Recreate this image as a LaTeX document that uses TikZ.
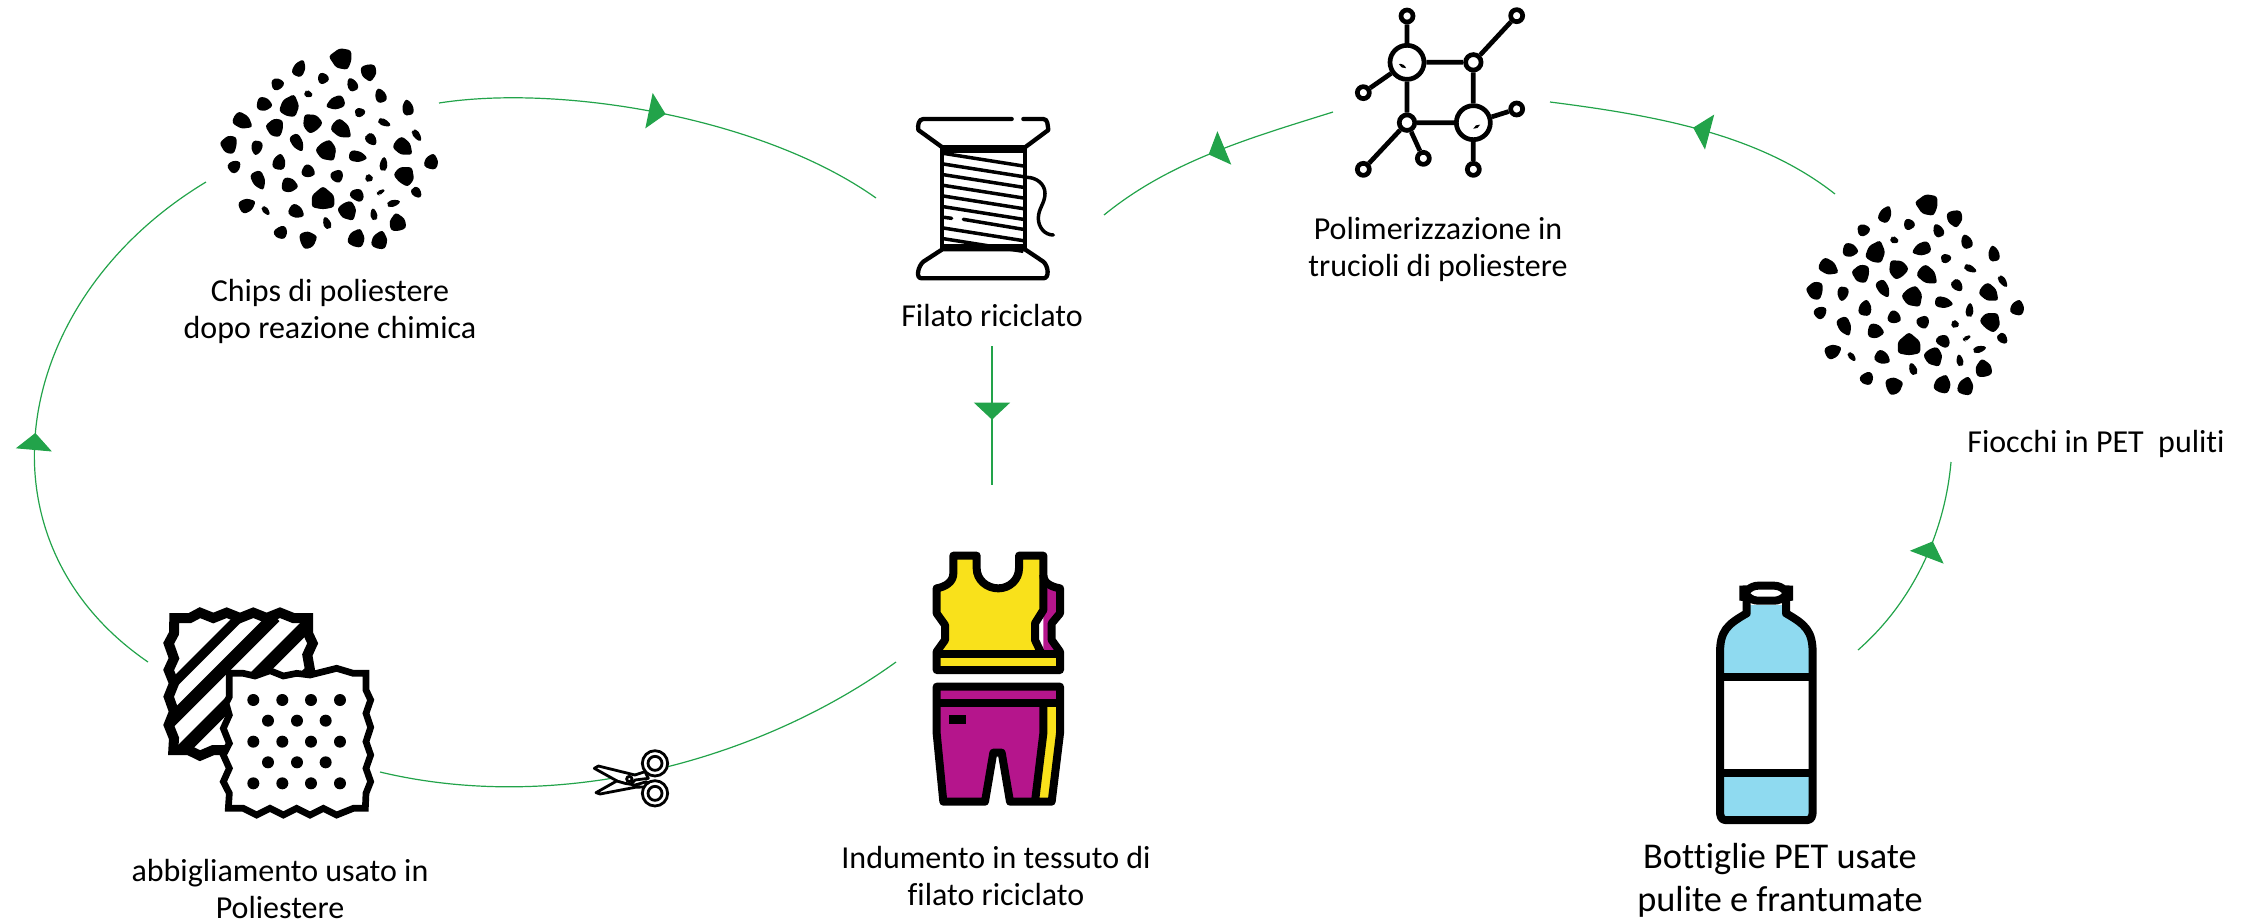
\documentclass[tikz,border=0pt]{standalone}
\usepackage{fontspec}
\setmainfont[Ligatures=NoCommon]{Carlito}
\usetikzlibrary{arrows.meta,decorations.markings}
\definecolor{flowgreen}{HTML}{22A34A}
\definecolor{topyellow}{HTML}{F9E11B}
\definecolor{pantsmagenta}{HTML}{B5158C}
\definecolor{bottleblue}{HTML}{8FDAF0}
\tikzset{
	flow/.style={flowgreen,line width=1.2pt},
	flowmark/.style={flow,postaction={decorate},decoration={markings,mark=at position #1 with {\arrow{Triangle[length=17pt,width=36pt]}}}},
	caption/.style={align=center,inner sep=0pt,font=\fontsize{32}{37}\selectfont},
	icon/.style={line width=4.3pt,line join=round,line cap=round},
	bigring/.style={circle,draw,fill=white,line width=4.7pt,minimum size=34pt,inner sep=0pt},
	midring/.style={circle,draw,fill=white,line width=4.7pt,minimum size=15.5pt,inner sep=0pt},
	smallring/.style={circle,draw,fill=white,line width=4.7pt,minimum size=12pt,inner sep=0pt},
	chips/.pic={
		\begin{scope}[scale=1/3]
		\foreach \px/\py/\pl/\pw/\pa in {420/85/32/24/170,299/113/26/14/65,507/130/25/18/-80,368/143/17/13/120,235/162/19/14/10,456/162/21/12/115,327/193/13/8/-20,541/195/22/13/110,195/223/23/16/-10,271/225/32/21/70,405/220/28/15/200,623/231/24/13/100,482/247/16/11/10,130/275/30/17/-30,222/292/25/21/170,333/276/28/21/130,555/279/20/8/-25,427/300/32/18/-40,515/330/20/12/-50,652/318/20/8/-55,84/343/24/21/170,170/355/22/13/-100,293/340/28/13/-60,383/366/30/22/-55,612/353/30/18/-40,475/380/27/13/-10,105/408/20/14/40,238/394/24/15/80,551/400/21/9/85,695/393/23/16/75,327/425/20/15/-25,412/441/19/15/-70,617/434/27/23/50,177/453/29/15/-65,271/466/24/17/-10,509/445/12/9/-15,369/503/32/27/90,473/493/18/17/60,544/485/13/5/30,651/489/18/11/-50,143/525/25/16/25,199/544/16/7/-50,291/546/24/15/-30,445/546/28/20/-60,583/519/20/8/15,521/551/18/8/100,592/575/26/19/100,244/610/19/16/-60,380/577/19/9/110,327/628/25/20/20,471/622/27/19/70,540/628/27/18/75}{
			\fill[black,shift={(\px,\py)},rotate=\pa,rounded corners=3pt] ({1.1*\pl},0) -- ({.2*\pl},{1.25*\pw}) -- ({-.9*\pl},{1.25*\pw}) -- ({-1.1*\pl},0) -- ({-.9*\pl},{-1.25*\pw}) -- ({.2*\pl},{-1.25*\pw}) -- cycle;
		}
		\end{scope}
	}
}
\begin{document}
\begin{tikzpicture}[x=1pt,y=-1pt]
	\useasboundingbox (0,0) rectangle (2248,922);
	\coordinate (chipsout) at (439,103);
	\coordinate (spoolin) at (876,198);
	\coordinate (spoolleft) at (1104,215);
	\coordinate (netout) at (1333,112);
	\coordinate (netin) at (1550,102);
	\coordinate (flakeout) at (1835,194);
	\coordinate (flakein) at (1951,462);
	\coordinate (bottleout) at (1858,650);
	\coordinate (spooldown) at (992,346);
	\coordinate (garmentup) at (992,485);
	\coordinate (garmentleft) at (896,662);
	\coordinate (clothright) at (380,772);
	\coordinate (clothup) at (148,662);
	\coordinate (chipsin) at (206,182);
	\draw[flowmark=0.5] (chipsout) .. controls (560,84) and (762,117) .. (spoolin);
	\draw[flowmark=0.52] (netout) .. controls (1250,138) and (1170,161) .. (spoolleft);
	\draw[flowmark=0.52] (flakeout) .. controls (1760,135) and (1660,116) .. (netin);
	\draw[flowmark=0.62] (bottleout) .. controls (1915,600) and (1945,530) .. (flakein);
	\draw[flowmark=0.53] (spooldown) -- (garmentup);
	\draw[flow] (garmentleft) .. controls (760,760) and (560,815) .. (clothright);
	\draw[flowmark=0.46] (clothup) .. controls (-30,540) and (10,300) .. (chipsin);
	\pic (chipsleft) at (200,30) {chips};
	\pic (chipsright) at (1786,176) {chips};
	% spool
	\begin{scope}[shift={(880,90)},scale=1/3]
		\draw[icon] (395,87) -- (130,87) to[out=180,in=100] (115,120) -- (187,172) -- (435,172) -- (505,120) to[out=100,in=0] (490,87) -- (430,87);
		\draw[icon] (187,478) -- (130,515) to[out=-140,in=180] (125,565) -- (490,565) to[out=0,in=-40] (490,515) -- (435,478) -- cycle;
		\draw[icon] (187,172) -- (187,478) (435,172) -- (435,478);
		\fill (187,172) rectangle (435,190);
		\fill (187,462) -- (435,462) -- (435,478) -- (187,478) -- cycle;
		\foreach \ty in {190,222,254,286,318,350,414,446}
			\draw[line width=3.5pt] (190,\ty) -- (430,\ty+38);
		\draw[line width=3.5pt,line cap=round] (193,382) -- (215,385) (250,388) -- (430,418);
		\draw[line width=3.5pt,line cap=round] (440,262) to[out=0,in=90] (495,310) to[out=-90,in=90] (475,385) to[out=-90,in=180] (520,435);
	\end{scope}
	% network
	\begin{scope}[shift={(1340,0)},scale=1/3]
		\node[bigring] (ringa) at (201,187) {};
		\node[midring] (ringb) at (400,187) {};
		\node[midring] (ringc) at (201,368) {};
		\node[bigring] (ringd) at (400,368) {};
		\node[smallring] (leafa) at (201,48) {};
		\node[smallring] (leafb) at (530,47) {};
		\node[smallring] (leafc) at (70,278) {};
		\node[smallring] (leafd) at (530,327) {};
		\node[smallring] (leafe) at (70,508) {};
		\node[smallring] (leaff) at (250,475) {};
		\node[smallring] (leafg) at (400,508) {};
		\draw[line width=4.7pt] (ringa) -- (ringb) (ringa) -- (ringc) (ringb) -- (ringd) (ringc) -- (ringd) (ringa) -- (leafa) (ringb) -- (leafb) (ringa) -- (leafc) (ringd) -- (leafd) (ringc) -- (leafe) (ringc) -- (leaff) (ringd) -- (leafg);
		\fill[rotate around={-30:(187,198)}] (175,198) to[out=40,in=140] (200,198) to[out=-140,in=-40] cycle;
		\fill[rotate around={30:(410,380)}] (398,380) to[out=40,in=140] (422,380) to[out=-140,in=-40] cycle;
	\end{scope}
	% fabrics
	\begin{scope}[shift={(140,590)},scale=1/3]
		\fill[white] (100,85) -- (505,85) -- (505,230) -- (260,480) -- (100,480) -- cycle;
		\begin{scope}
			\clip (100,85) -- (505,85) -- (505,230) -- (260,480) -- (100,480) -- cycle;
			\draw[line width=9.4pt] (80,300) -- (300,80);
			\draw[line width=12.7pt] (80,405) -- (405,80);
			\draw[line width=13pt] (100,507) -- (527,80);
		\end{scope}
		\draw[line width=10pt,line join=miter] (103,84) -- (150,84) -- (180,68) -- (220,84) -- (260,68) -- (300,84) -- (340,68) -- (380,84) -- (420,68) -- (460,84) -- (504,84) -- (504,130) -- (518,160) -- (502,195) -- (510,240) -- (260,480) -- (220,480) -- (180,497) -- (145,480) -- (100,480) -- (102,445) -- (86,405) -- (102,365) -- (86,320) -- (102,280) -- (86,240) -- (102,205) -- (86,160) -- (102,130) -- cycle;
		\draw[fill=white,line width=6.7pt,line join=miter] (268,250) -- (310,250) -- (345,258) -- (390,242) -- (430,258) -- (470,250) -- (510,255) -- (550,245) -- (590,235) -- (640,250) -- (678,250) -- (678,300) -- (692,330) -- (678,370) -- (692,412) -- (678,455) -- (692,495) -- (678,535) -- (692,575) -- (678,610) -- (676,655) -- (640,655) -- (590,675) -- (550,655) -- (510,675) -- (470,655) -- (430,675) -- (390,655) -- (350,675) -- (310,655) -- (265,655) -- (268,610) -- (250,575) -- (268,535) -- (250,495) -- (268,460) -- (250,415) -- (268,375) -- (258,340) -- (268,320) -- cycle;
		\foreach \dy in {330,455,580}
			\foreach \dx in {340,427,513,600}
				\fill (\dx,\dy) circle (18);
		\foreach \dy in {392,517}
			\foreach \dx in {384,471,557}
				\fill (\dx,\dy) circle (18);
	\end{scope}
	% scissors
	\begin{scope}[shift={(580,730)},scale=1/3]
		\draw[fill=white,line width=2.8pt,line join=round] (43,115) -- (55,108) -- (165,135) -- (195,125) -- (205,145) -- (165,150) -- (150,165) -- (115,155) -- cycle;
		\draw[fill=white,line width=2.8pt,line join=round] (48,188) -- (110,153) -- (135,160) -- (165,165) -- (200,155) -- (205,170) -- (165,172) -- (60,192) -- cycle;
		\draw[fill=white,line width=2.8pt] (225,100) circle (38);
		\draw[line width=2.8pt] (225,100) circle (21);
		\draw[fill=white,line width=2.8pt] (225,190) circle (38);
		\draw[line width=2.8pt] (225,190) circle (21);
		\draw[fill=white,line width=2.8pt] (148,147) circle (8);
	\end{scope}
	% garment
	\begin{scope}[shift={(910,530)},scale=1/3]
		\fill[pantsmagenta] (400,150) -- (450,175) -- (450,250) -- (425,280) -- (425,330) -- (450,365) -- (400,365) -- cycle;
		\fill[topyellow] (130,77) -- (200,77) -- (200,115) to[out=-90,in=180] (265,175) to[out=0,in=-90] (327,115) -- (327,77) -- (400,77) -- (400,240) -- (375,280) -- (375,330) -- (395,372) -- (80,372) -- (105,330) -- (105,285) -- (80,250) -- (80,175) -- (115,165) -- (130,130) -- cycle;
		\fill[topyellow] (80,372) rectangle (450,420);
		\draw[line width=8pt,line join=round] (130,77) -- (200,77) -- (200,115) to[out=-90,in=180] (265,175) to[out=0,in=-90] (327,115) -- (327,77) -- (400,77) -- (400,135) to[out=-90,in=170] (450,175) -- (450,250) -- (425,280) -- (425,330) -- (450,365) -- (450,420) -- (80,420) -- (80,365) -- (105,330) -- (105,285) -- (80,250) -- (80,175) to[out=10,in=-90] (130,130) -- cycle;
		\draw[line width=8pt,line join=round] (400,135) -- (400,240) -- (375,280) -- (375,330) -- (395,372);
		\draw[line width=8pt] (80,372) -- (450,372);
		\fill[pantsmagenta] (80,470) -- (450,470) -- (450,610) -- (425,815) -- (300,815) -- (275,668) -- (250,668) -- (225,815) -- (100,815) -- (80,610) -- cycle;
		\fill[topyellow] (400,520) -- (450,520) -- (450,610) -- (425,815) -- (375,815) -- (400,610) -- cycle;
		\draw[line width=8pt,line join=round] (80,470) -- (450,470) -- (450,610) -- (425,815) -- (300,815) -- (275,668) -- (250,668) -- (225,815) -- (100,815) -- (80,610) -- cycle;
		\draw[line width=8pt] (80,520) -- (450,520);
		\draw[line width=8pt] (400,520) -- (400,610) -- (375,815);
		\fill (117,555) rectangle (167,582);
	\end{scope}
	% bottle
	\begin{scope}[shift={(1690,570)},scale=1/3]
		\fill[bottleblue] (170,105) -- (288,105) -- (288,130) to[out=-30,in=90,looseness=1.2] (368,250) -- (368,740) -- (90,740) -- (90,250) to[out=90,in=-150,looseness=1.2] (170,130) -- cycle;
		\fill[white] (90,322) rectangle (368,608);
		\draw[fill=white,line width=8pt,rounded corners=15pt] (160,47) rectangle (297,92);
		\draw[line width=8pt,line join=round] (170,92) -- (170,130) to[out=-150,in=90,looseness=1.2] (90,250) -- (90,725) to[out=-90,in=180] (105,750) -- (353,750) to[out=0,in=-90] (368,725) -- (368,250) to[out=90,in=-30,looseness=1.2] (288,130) -- (288,92);
		\draw[line width=8pt] (90,322) -- (368,322) (90,608) -- (368,608);
	\end{scope}
	\node[caption] (chipstext) at (330,311) {Chips di poliestere\\dopo reazione chimica};
	\node[caption] (spooltext) at (992,315) {Filato riciclato};
	\node[caption] (nettext) at (1438,249) {Polimerizzazione in\\trucioli di poliestere};
	\node[caption] (flaketext) at (2096,444) {Fiocchi in PET\ \ puliti};
	\node[caption,font=\fontsize{36.3}{43}\selectfont] (bottletext) at (1780,880) {Bottiglie PET usate\\pulite e frantumate};
	\node[caption] (garmenttext) at (996,876) {Indumento in tessuto di\\filato riciclato};
	\node[caption] (clothtext) at (280,889) {abbigliamento usato in\\Poliestere};
\end{tikzpicture}
\end{document}
